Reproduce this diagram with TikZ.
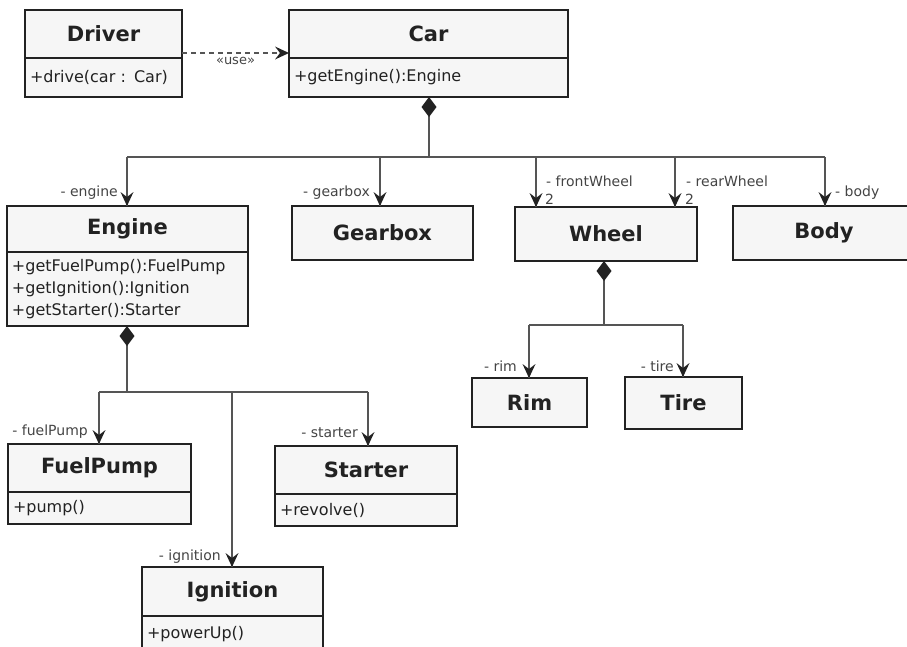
\documentclass[tikz,border=0pt]{standalone}
\usepackage{fontspec}
\setmainfont{DejaVu Sans}
\usetikzlibrary{arrows.meta,calc}
\definecolor{boxfill}{HTML}{F6F6F6}
\definecolor{edge}{HTML}{222222}
\definecolor{conncol}{HTML}{555555}
\definecolor{labcol}{HTML}{444444}
\newcommand{\ttlfont}{\fontsize{21}{25}\selectfont\bfseries}
\newcommand{\mthfont}{\fontsize{16}{22}\selectfont}
\newcommand{\lblfont}{\fontsize{14}{16}\selectfont}
% filled chevron heads (y axis points down in this picture)
\newcommand{\vheaddown}[1]{\fill[edge] #1 -- ++(-6.5,-14) -- ++(6.5,5) -- ++(6.5,-5) -- cycle;}
\newcommand{\vheadright}[1]{\fill[edge] #1 -- ++(-14,-6.5) -- ++(5,6.5) -- ++(-5,6.5) -- cycle;}
\tikzset{
  clsbox/.style={draw=edge, line width=2.2pt, fill=boxfill, inner sep=0pt, outer sep=0pt, font=\ttlfont, text=edge},
  mthbox/.style={draw=edge, line width=2.2pt, fill=boxfill, inner ysep=0pt, inner xsep=5pt, outer sep=0pt, align=left, font=\mthfont, text=edge, anchor=north west},
  conn/.style={draw=conncol, line width=1.3pt},
  arr/.style={conn},
  comp/.style={conn, {Diamond[length=20pt,width=15pt,color=edge,fill=edge]}-},
  dep/.style={conn, dash pattern=on 5pt off 4pt},
  lbl/.style={font=\lblfont, text=labcol, inner sep=0pt}
}
\begin{document}
\begin{tikzpicture}[x=1pt,y=-1pt]
\useasboundingbox (0,0) rectangle (907,646);
% Driver
\node[clsbox, minimum width=157pt, minimum height=48pt] (driver) at (103.5,34) {Driver};
\node[mthbox, text width=147pt, minimum height=39pt] (driverm) at (driver.south west) {+drive(car : Car)};
% Car
\node[clsbox, minimum width=279pt, minimum height=48pt] (car) at (428.5,34) {Car};
\node[mthbox, text width=269pt, minimum height=39pt] (carm) at (car.south west) {+getEngine():Engine};
% Engine
\node[clsbox, minimum width=241pt, minimum height=46pt] (engine) at (127.5,229) {Engine};
\node[mthbox, text width=231pt, minimum height=74pt] (enginem) at (engine.south west) {+getFuelPump():FuelPump\\+getIgnition():Ignition\\+getStarter():Starter};
% Gearbox
\node[clsbox, minimum width=181pt, minimum height=54pt] (gearbox) at (382.5,233) {Gearbox};
% Wheel
\node[clsbox, minimum width=182pt, minimum height=54pt] (wheel) at (606,234) {Wheel};
% Body
\node[clsbox, minimum width=182pt, minimum height=54pt] (body) at (824,233) {Body};
% Rim, Tire
\node[clsbox, minimum width=115pt, minimum height=49pt] (rim) at (529.5,402.5) {Rim};
\node[clsbox, minimum width=117pt, minimum height=52pt] (tire) at (683.5,403) {Tire};
% FuelPump
\node[clsbox, minimum width=183pt, minimum height=48pt] (fuelpump) at (99.5,468) {FuelPump};
\node[mthbox, text width=173pt, minimum height=32pt] (fuelpumpm) at (fuelpump.south west) {+pump()};
% Starter
\node[clsbox, minimum width=182pt, minimum height=48pt] (starter) at (366,470) {Starter};
\node[mthbox, text width=172pt, minimum height=32pt] (starterm) at (starter.south west) {+revolve()};
% Ignition
\node[clsbox, minimum width=181pt, minimum height=49pt] (ignition) at (232.5,591.5) {Ignition};
\node[mthbox, text width=171pt, minimum height=36pt] (ignitionm) at (ignition.south west) {+powerUp()};

% dependency
\draw[dep] ([yshift=5pt]driver.south east) -- ([yshift=5pt]car.south west)
  node[midway, below=4pt, lbl, font=\fontsize{13}{15}\selectfont] (use) {«use»};
\vheadright{([yshift=5pt]car.south west)}

% Car composition
\coordinate (cj) at (429,157);
\coordinate (hEng) at (127,157);
\coordinate (hGear) at (380,157);
\coordinate (hFw) at (536,157);
\coordinate (hRw) at (675,157);
\coordinate (hBody) at (825,157);
\draw[comp] (carm.south -| cj) -- (cj);
\draw[conn] (hEng) -- (hBody);
\draw[arr] (hEng) -- (hEng |- engine.north);
\draw[arr] (hGear) -- (hGear |- gearbox.north);
\draw[arr] (hFw) -- (hFw |- wheel.north);
\draw[arr] (hRw) -- (hRw |- wheel.north);
\draw[arr] (hBody) -- (hBody |- body.north);
\vheaddown{(hEng |- engine.north)}
\vheaddown{(hGear |- gearbox.north)}
\vheaddown{(hFw |- wheel.north)}
\vheaddown{(hRw |- wheel.north)}
\vheaddown{(hBody |- body.north)}

% Engine composition
\coordinate (ej) at (127,392);
\coordinate (hFp) at (99,392);
\coordinate (hIg) at (232,392);
\coordinate (hSt) at (368,392);
\draw[comp] (enginem.south -| ej) -- (ej);
\draw[conn] (hFp) -- (hSt);
\draw[arr] (hFp) -- (hFp |- fuelpump.north);
\draw[arr] (hIg) -- (hIg |- ignition.north);
\draw[arr] (hSt) -- (hSt |- starter.north);
\vheaddown{(hFp |- fuelpump.north)}
\vheaddown{(hIg |- ignition.north)}
\vheaddown{(hSt |- starter.north)}

% Wheel composition
\coordinate (wj) at (604,325);
\coordinate (hRim) at (529,325);
\coordinate (hTire) at (683,325);
\draw[comp] (wheel.south -| wj) -- (wj);
\draw[conn] (hRim) -- (hTire);
\draw[arr] (hRim) -- (hRim |- rim.north);
\draw[arr] (hTire) -- (hTire |- tire.north);
\vheaddown{(hRim |- rim.north)}
\vheaddown{(hTire |- tire.north)}

% role labels
\node[lbl, anchor=east] (lEng) at (118,193) {- engine};
\node[lbl, anchor=east] (lGear) at (370,193) {- gearbox};
\node[lbl, anchor=west] (lFw) at (546,181) {- frontWheel};
\node[lbl, anchor=west] (mFw) at (545,199) {2};
\node[lbl, anchor=west] (lRw) at (686,181) {- rearWheel};
\node[lbl, anchor=west] (mRw) at (685,199) {2};
\node[lbl, anchor=west] (lBody) at (835,193) {- body};
\node[lbl, anchor=east] (lRim) at (517,366) {- rim};
\node[lbl, anchor=east] (lTire) at (674,366) {- tire};
\node[lbl, anchor=east] (lFp) at (88,432) {- fuelPump};
\node[lbl, anchor=east] (lSt) at (358,433) {- starter};
\node[lbl, anchor=east] (lIg) at (221,557) {- ignition};
\end{tikzpicture}
\end{document}
